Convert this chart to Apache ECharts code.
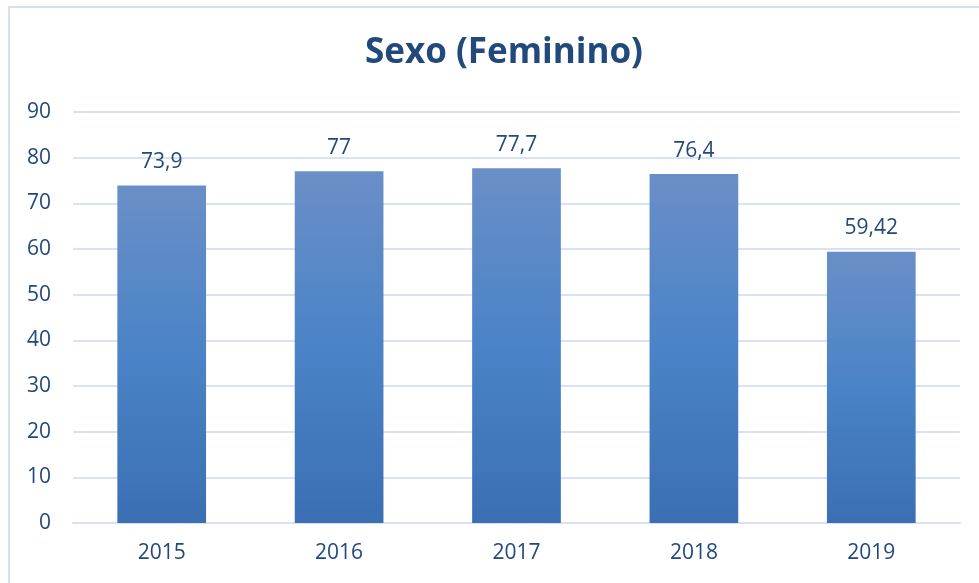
<!DOCTYPE html>
<html>
<head>
<meta charset="utf-8">
<script src="https://cdn.jsdelivr.net/npm/echarts@6/dist/echarts.min.js"></script>
<style>
  html, body { margin: 0; padding: 0; background: #fff; }
  #chart { width: 979px; height: 583px; }
</style>
</head>
<body>
<div id="chart"></div>
<script>
const years = ['2015', '2016', '2017', '2018', '2019'];
const feminino = [73.9, 77, 77.7, 76.4, 59.42];
const yTicks = { min: 0, max: 90, interval: 10 };

const textColor = '#22497b';
const gridColor = '#d9e2f3';

const myChart = echarts.init(document.getElementById('chart'));

const option = {
  animation: false,
  title: {
    text: 'Sexo (Feminino)',
    left: 499,
    textAlign: 'center',
    top: 31,
    textStyle: {
      color: textColor,
      fontFamily: 'Open Sans',
      fontWeight: 'bold',
      fontSize: 35
    }
  },
  // 外框
  graphic: [{
    type: 'rect',
    shape: { x: 9, y: 7, width: 1000, height: 1000 },
    style: { fill: 'none', stroke: '#d6e0f1', lineWidth: 2 },
    silent: true
  }],
  grid: { left: 73, right: 19, top: 112, bottom: 60 },
  xAxis: {
    type: 'category',
    data: years,
    axisLine: { show: true, lineStyle: { color: gridColor, width: 2 } },
    axisTick: { show: false },
    axisLabel: {
      color: textColor,
      fontFamily: 'Open Sans',
      fontSize: 21,
      margin: 20
    }
  },
  yAxis: {
    type: 'value',
    min: yTicks.min,
    max: yTicks.max,
    interval: yTicks.interval,
    axisLine: { show: false },
    axisTick: { show: false },
    splitLine: { lineStyle: { color: gridColor, width: 2 } },
    axisLabel: {
      color: textColor,
      fontFamily: 'Open Sans',
      fontSize: 21,
      margin: 22
    }
  },
  series: [{
    type: 'bar',
    data: feminino,
    barWidth: '50%',
    itemStyle: {
      color: new echarts.graphic.LinearGradient(0, 0, 0, 1, [
        { offset: 0, color: '#6a8fc7' },
        { offset: 0.5, color: '#4a83c7' },
        { offset: 1, color: '#3b6fb3' }
      ])
    },
    label: {
      show: true,
      position: 'top',
      distance: 13,
      color: textColor,
      fontFamily: 'Open Sans',
      fontSize: 21,
      formatter: p => String(p.value).replace('.', ',')
    }
  }]
};

myChart.setOption(option);
</script>
</body>
</html>
